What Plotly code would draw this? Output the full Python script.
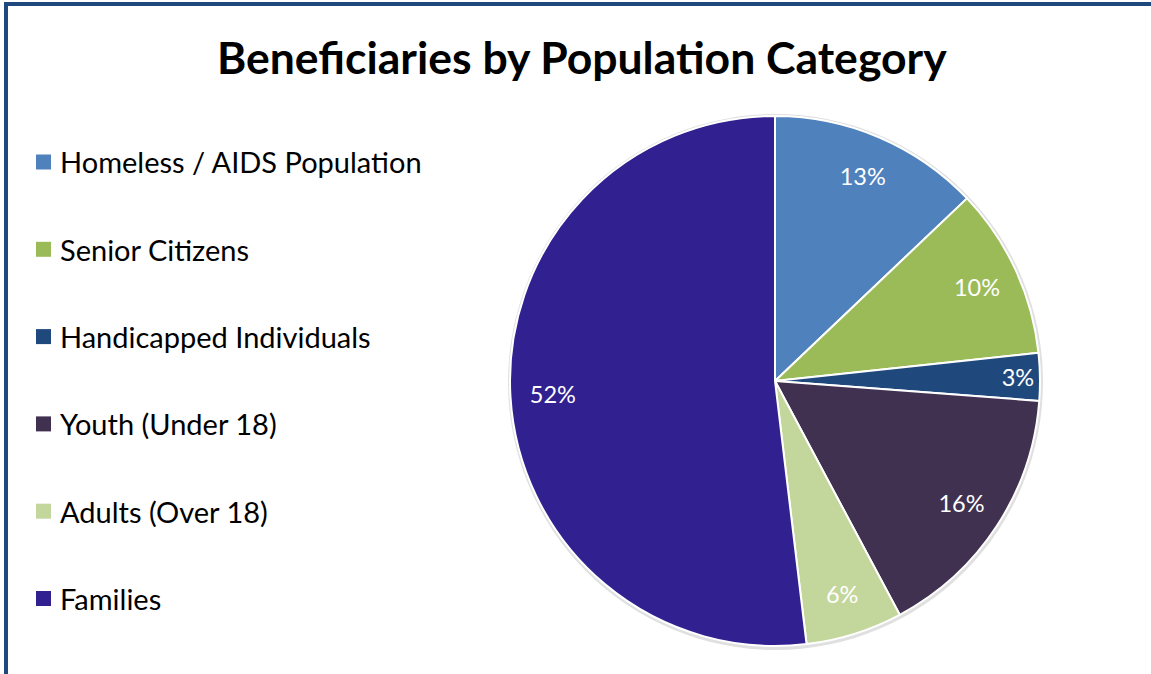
import plotly.graph_objects as go

W, H = 1151, 674

categories = ["Homeless / AIDS Population", "Senior Citizens", "Handicapped Individuals",
              "Youth (Under 18)", "Adults (Over 18)", "Families"]
values = [12.9, 10.4, 2.9, 16.0, 5.9, 51.9]
colors = ["#4F81BD", "#9BBB59", "#1F497D", "#403151", "#C3D69B", "#31208F"]

FONT = "Lato"

# pie geometry in pixels
cx, cy, r = 775, 381, 265
domain = dict(x=[(cx - r) / W, (cx + r) / W], y=[(H - cy - r) / H, (H - cy + r) / H])

fig = go.Figure()
# coloured slices
fig.add_trace(go.Pie(
    labels=categories, values=values, sort=False, direction="clockwise", rotation=0,
    marker=dict(colors=colors, line=dict(color="white", width=2)),
    textinfo="none", showlegend=False, hoverinfo="label+percent",
    domain=domain,
))
# transparent ring carrying the percentage labels near the outer edge
fig.add_trace(go.Pie(
    labels=categories, values=values, sort=False, direction="clockwise", rotation=0,
    hole=0.68,
    marker=dict(colors=["rgba(0,0,0,0)"] * len(values), line=dict(width=0)),
    texttemplate="%{percent:.0%}", textposition="inside", insidetextorientation="horizontal",
    textfont=dict(family=FONT, size=23.5, color="white"),
    showlegend=False, hoverinfo="skip",
    domain=domain,
))

shapes = []
# soft shadow behind the pie
shapes.append(dict(type="circle", xref="paper", yref="paper", layer="below",
                   x0=(cx - r - 2) / W, x1=(cx + r + 3) / W, y0=(H - cy - r - 4) / H, y1=(H - cy + r + 2) / H,
                   fillcolor="#E0E0E0", line=dict(width=0)))
# frame border (top and left)
shapes.append(dict(type="rect", xref="paper", yref="paper", x0=4 / W, x1=1.0, y0=(H - 6) / H, y1=(H - 2) / H,
                   fillcolor="#1F497D", line=dict(width=0), layer="above"))
shapes.append(dict(type="rect", xref="paper", yref="paper", x0=4 / W, x1=8 / W, y0=0, y1=(H - 2) / H,
                   fillcolor="#1F497D", line=dict(width=0), layer="above"))

annotations = []
leg_y0, leg_dy = 162, 87.3
for i, (lab, col) in enumerate(zip(categories, colors)):
    yc = leg_y0 + i * leg_dy
    shapes.append(dict(type="rect", xref="paper", yref="paper",
                       x0=36 / W, x1=51 / W, y0=(H - yc - 7.5) / H, y1=(H - yc + 7.5) / H,
                       fillcolor=col, line=dict(width=0)))
    annotations.append(dict(text=lab, xref="paper", yref="paper", x=58 / W, y=(H - yc) / H,
                            xanchor="left", yanchor="middle", showarrow=False,
                            font=dict(family=FONT, size=29, color="black")))

annotations.append(dict(text="<b>Beneficiaries by Population Category</b>", xref="paper", yref="paper",
                        x=582 / W, y=(H - 57) / H, xanchor="center", yanchor="middle", showarrow=False,
                        font=dict(family=FONT, size=44.5, color="black")))

fig.update_layout(
    width=W, height=H, margin=dict(l=0, r=0, t=0, b=0),
    paper_bgcolor="white", plot_bgcolor="white",
    shapes=shapes, annotations=annotations, showlegend=False,
)

fig.write_html("out.html")
